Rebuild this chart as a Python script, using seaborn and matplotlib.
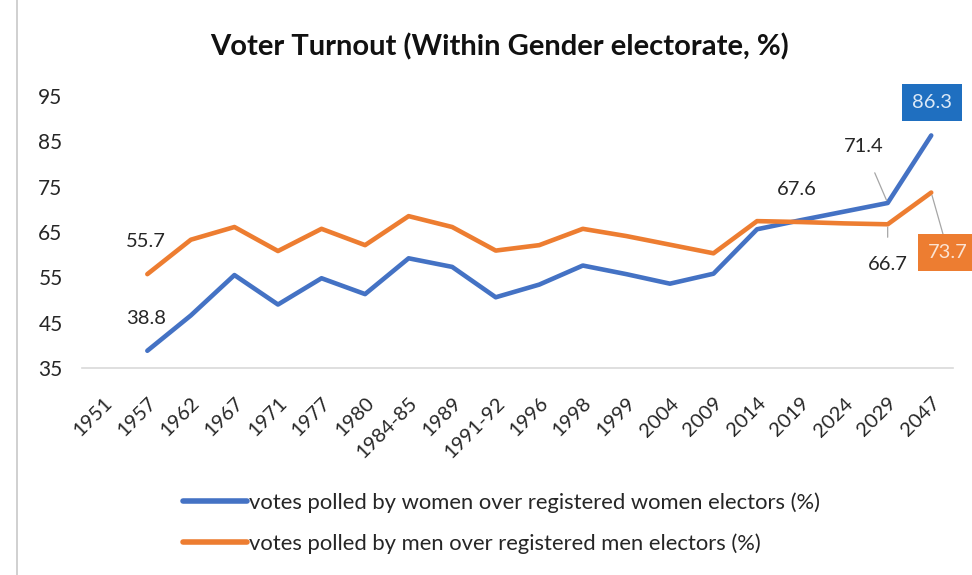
import numpy as np
import pandas as pd
import matplotlib
matplotlib.use("Agg")
import matplotlib.pyplot as plt
import seaborn as sns
from matplotlib.lines import Line2D

# -------------------------------
# data
# -------------------------------
years = ["1951", "1957", "1962", "1967", "1971", "1977", "1980", "1984-85", "1989",
         "1991-92", "1996", "1998", "1999", "2004", "2009", "2014", "2019", "2024",
         "2029", "2047"]
women = [np.nan, 38.8, 46.6, 55.5, 49.0, 54.8, 51.3, 59.2, 57.3, 50.6, 53.4, 57.6,
         55.7, 53.6, 55.8, 65.6, 67.6, 69.5, 71.4, 86.3]
men = [np.nan, 55.7, 63.3, 66.1, 60.8, 65.7, 62.1, 68.5, 66.1, 60.9, 62.1, 65.7,
       64.1, 62.2, 60.3, 67.4, 67.2, 66.9, 66.7, 73.7]

women_label = "votes polled by women over registered women electors (%)"
men_label = "votes polled by men over registered men electors (%)"

BLUE = "#4472C4"
ORANGE = "#ED7D31"

df = pd.DataFrame({
    "pos": list(range(len(years))) * 2,
    "value": women + men,
    "series": [women_label] * len(years) + [men_label] * len(years),
})

sns.set_style("white")
plt.rcParams["font.family"] = ["Lato", "DejaVu Sans"]

fig = plt.figure(figsize=(9.72, 5.75), dpi=100)
ax = fig.add_axes([82 / 972, 1 - 368 / 575, (953 - 82) / 972, (368 - 96) / 575])

sns.lineplot(data=df, x="pos", y="value", hue="series",
             palette={women_label: BLUE, men_label: ORANGE},
             linewidth=3.3, legend=False, ax=ax, sort=False)

ax.set_xlim(-0.5, len(years) - 0.5)
ax.set_ylim(35, 95)
ax.set_yticks(np.arange(35, 96, 10))
ax.set_xticks(range(len(years)))
ax.set_xticklabels(years, rotation=45, ha="right", rotation_mode="anchor", fontsize=14.5)
ax.tick_params(axis="y", labelsize=15, length=0, pad=14, labelcolor="#262626")
ax.tick_params(axis="x", length=0, pad=19, labelcolor="#262626")
ax.set_xlabel("")
ax.set_ylabel("")
for s in ["top", "right", "left"]:
    ax.spines[s].set_visible(False)
ax.spines["bottom"].set_color("#d9d9d9")
ax.spines["bottom"].set_linewidth(1.2)

# -------------------------------
# data labels
# -------------------------------
i57 = years.index("1957")
i19 = years.index("2019")
i29 = years.index("2029")
i47 = years.index("2047")
lab = dict(textcoords="offset pixels", ha="center", va="center", fontsize=14.5, color="#262626")
lead = dict(arrowstyle="-", color="#a6a6a6", lw=0.9, shrinkA=11, shrinkB=2)

ax.annotate(f"{men[i57]}", xy=(i57, men[i57]), xytext=(-1, 33), **lab)
ax.annotate(f"{women[i57]}", xy=(i57, women[i57]), xytext=(-1, 32), **lab)
ax.annotate(f"{women[i19]}", xy=(i19, women[i19]), xytext=(-4, 31), **lab)
ax.annotate(f"{women[i29]}", xy=(i29, women[i29]), xytext=(-24, 56), arrowprops=lead, **lab)
ax.annotate(f"{men[i29]}", xy=(i29, men[i29]), xytext=(0, -40), arrowprops=lead, **lab)
ax.annotate(f"{women[i47]}", xy=(i47, women[i47]), xytext=(1, 33),
            textcoords="offset pixels", ha="center", va="center", fontsize=14.5,
            color="#dce9f7", bbox=dict(boxstyle="square,pad=0.5", fc="#1F6FC0", ec="none"))
ax.annotate(f"{men[i47]}", xy=(i47, men[i47]), xytext=(17, -60),
            textcoords="offset pixels", ha="center", va="center", fontsize=14.5,
            color="#fbe3d3", bbox=dict(boxstyle="square,pad=0.5", fc=ORANGE, ec="none"),
            arrowprops=dict(arrowstyle="-", color="#a6a6a6", lw=0.9, shrinkA=0, shrinkB=2))

# title
fig.text(500 / 972, 1 - 47 / 575, "Voter Turnout (Within Gender electorate, %)",
         ha="center", va="center", fontsize=21, fontweight="bold", color="#111111")

# legend
handles = [Line2D([], [], color=BLUE, lw=4), Line2D([], [], color=ORANGE, lw=4)]
fig.legend(handles, [women_label, men_label], loc="center left",
           bbox_to_anchor=(172 / 972, 1 - 523 / 575), frameon=False, fontsize=15.8,
           handlelength=2.9, handletextpad=0.1, labelspacing=0.95, borderpad=0)

# chart border on the left
fig.add_artist(Line2D([17 / 972, 17 / 972], [0, 1], color="#c8c8c8", lw=1.2))

fig.savefig("out.png", dpi=100, facecolor="white")
